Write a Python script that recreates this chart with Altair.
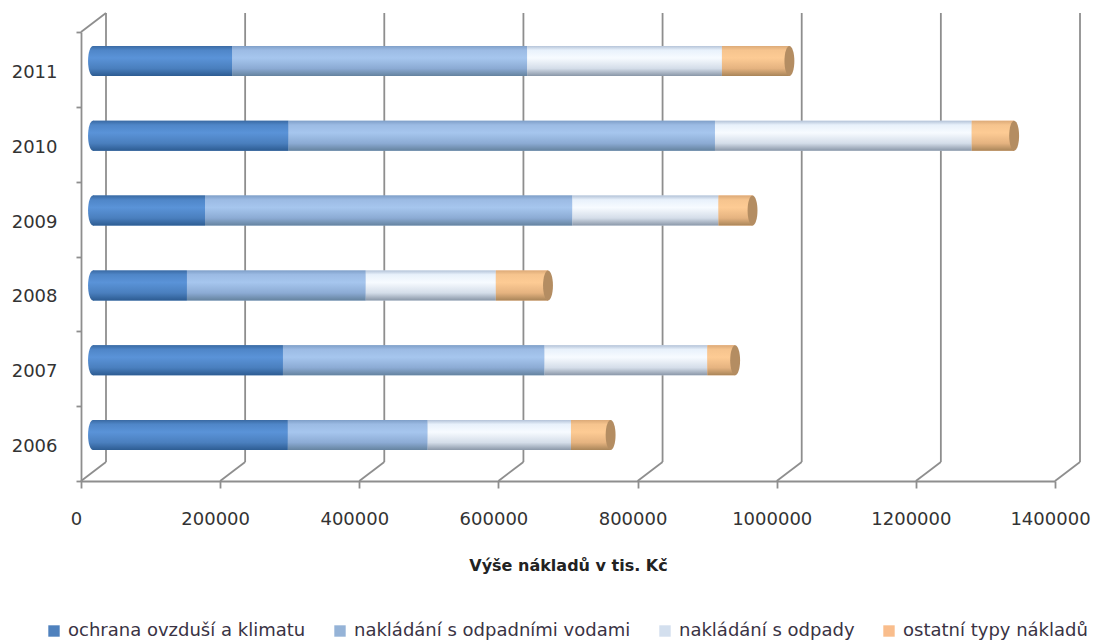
import altair as alt
import pandas as pd

years = ["2006", "2007", "2008", "2009", "2010", "2011"]
series = ["ochrana ovzduší a klimatu", "nakládání s odpadními vodami", "nakládání s odpady", "ostatní typy nákladů"]
air = [280000, 273000, 135000, 161000, 281000, 200000]
water = [201000, 376000, 257000, 528000, 613000, 424000]
waste = [206000, 234000, 187000, 210000, 369000, 280000]
other = [57000, 40000, 75000, 49000, 61000, 97000]
ticks = [0, 200000, 400000, 600000, 800000, 1000000, 1200000, 1400000]
legend_colors = ["#4f81bd", "#95b3d7", "#d3dfee", "#f9bd8c"]
gradients = [
    ["#3a6aa3", "#4f86c8", "#5a93d8", "#4a7fbe", "#2d5c92"],
    ["#7f9fc8", "#9cbbe4", "#a6c6ee", "#8cabd4", "#65839f"],
    ["#b4c3d8", "#e8f1fb", "#f7fbff", "#d4dde9", "#8a97a8"],
    ["#dcaa78", "#f6c48e", "#fdcb94", "#e5b380", "#a98559"],
]
cap_color = "#b48d62"

rows = []
for i, y in enumerate(years):
    pos = 0
    for name, vals in zip(series, [air, water, waste, other]):
        rows.append({"year": y, "series": name, "start": pos, "end": pos + vals[i]})
        pos += vals[i]
df = pd.DataFrame(rows)
tick_df = pd.DataFrame({"tick": ticks})
totals = df[df.series == series[3]]
starts = df[df.series == series[0]]

X_OFF, Y_OFF, DEPTH, BAR = 12, -8.5, 25, 30
GREY = "#8e8e8e"
LINE = 1.8


def grad(colors):
    stops = [alt.GradientStop(offset=[0, 0.14, 0.4, 0.75, 1][k], color=c) for k, c in enumerate(colors)]
    return alt.LinearGradient(gradient="linear", x1=0, y1=0, x2=0, y2=1, stops=stops)


x_scale = alt.Scale(domain=[0, 1400000], nice=False)
y_scale = alt.Scale(domain=years[::-1], paddingInner=0, paddingOuter=0)
y_enc = alt.Y(
    "year:N",
    scale=y_scale,
    sort=years[::-1],
    title=None,
    axis=alt.Axis(
        tickBand="extent", tickSize=5, tickColor=GREY, domainColor=GREY, domainWidth=LINE, tickWidth=LINE,
        labelFont="DejaVu Sans", labelFontSize=18, labelColor="#333333", labelPadding=19, grid=False,
        labelOffset=3,
    ),
)
x_enc = alt.X(
    "start:Q",
    scale=x_scale,
    title="Výše nákladů  v tis. Kč",
    axis=alt.Axis(
        values=ticks, format="d", tickSize=7, tickColor=GREY, domainColor=GREY, domainWidth=LINE, tickWidth=LINE,
        labelFont="DejaVu Sans", labelFontSize=18, labelColor="#333333", labelPadding=22, grid=False,
        labelFlush=False, labelOffset=-5, labelOverlap=False,
        titleFont="DejaVu Sans", titleFontSize=16, titleFontWeight="bold", titleColor="#222222", titlePadding=29,
    ),
)

wall = alt.Chart(tick_df).mark_rule(color=GREY, strokeWidth=LINE, xOffset=DEPTH).encode(
    x=alt.X("tick:Q", scale=x_scale), y=alt.value(-19), y2=alt.value(430))
floor = alt.Chart(tick_df).mark_rule(color=GREY, strokeWidth=LINE, x2Offset=DEPTH).encode(
    x=alt.X("tick:Q", scale=x_scale), x2="tick:Q", y=alt.value(449), y2=alt.value(430))
corner = alt.Chart(tick_df[tick_df.tick == 0]).mark_rule(color=GREY, strokeWidth=LINE, x2Offset=DEPTH).encode(
    x=alt.X("tick:Q", scale=x_scale), x2="tick:Q", y=alt.value(0), y2=alt.value(-19))

ELLIPSE = "M0,-1 A0.33,1 0 1,1 0,1 A0.33,1 0 1,1 0,-1 Z"
left_cap = alt.Chart(starts).mark_point(
    shape=ELLIPSE, size=BAR * BAR, filled=True, opacity=1, fill=grad(gradients[0]), strokeWidth=0,
    xOffset=X_OFF, yOffset=Y_OFF
).encode(x=alt.X("start:Q", scale=x_scale), y=alt.Y("year:N", scale=y_scale, sort=years[::-1]))

base = alt.Chart(df).mark_bar(size=BAR, xOffset=X_OFF, x2Offset=X_OFF, yOffset=Y_OFF).encode(
    x=x_enc,
    x2="end:Q",
    y=y_enc,
    color=alt.Color(
        "series:N",
        scale=alt.Scale(domain=series, range=legend_colors),
        sort=series,
        legend=alt.Legend(
            orient="none", legendX=-36, legendY=590, direction="horizontal", columns=4, title=None,
            symbolType="square", symbolSize=130, symbolStrokeWidth=0, labelFont="DejaVu Sans", labelFontSize=18,
            labelColor="#3a3344", columnPadding=25, labelOffset=5, labelLimit=400, gridAlign="each",
        ),
    ),
)

overlays = [
    alt.Chart(df[df.series == s]).mark_bar(size=BAR, fill=grad(g), xOffset=X_OFF, x2Offset=X_OFF, yOffset=Y_OFF).encode(
        x=alt.X("start:Q", scale=x_scale), x2="end:Q", y=alt.Y("year:N", scale=y_scale, sort=years[::-1]))
    for s, g in zip(series, gradients)
]

end_cap = alt.Chart(totals).mark_point(
    shape=ELLIPSE, size=BAR * BAR, filled=True, opacity=1, fill=cap_color, strokeWidth=0, xOffset=X_OFF, yOffset=Y_OFF
).encode(x=alt.X("end:Q", scale=x_scale), y=alt.Y("year:N", scale=y_scale, sort=years[::-1]))

chart = alt.layer(
    wall, floor, corner, left_cap, base, *overlays, end_cap
).properties(
    width=974, height=449,
    autosize=alt.AutoSizeParams(type="none"),
    padding={"left": 73, "top": 24, "right": 36, "bottom": 159},
    background="white",
).configure_view(stroke=None)

chart.save("out.html", embed_options={"renderer": "svg", "actions": False})
